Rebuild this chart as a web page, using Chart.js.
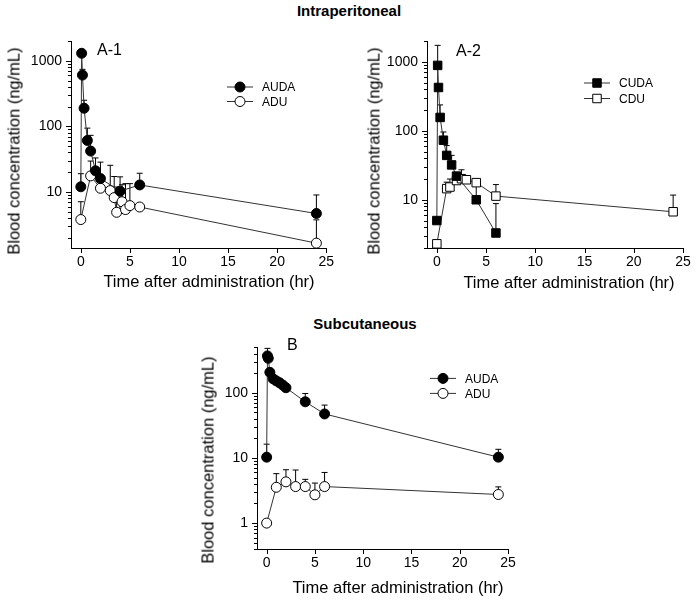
<!DOCTYPE html>
<html>
<head>
<meta charset="utf-8">
<script src="https://cdn.jsdelivr.net/npm/chart.js@4.4.0/dist/chart.umd.min.js"></script>
<style>
body { margin: 0; background: #fff; width: 698px; height: 602px; position: relative; overflow: hidden; font-family: 'Liberation Sans', Arial, sans-serif; color: #000; }
canvas { position: absolute; }
.lbl { position: absolute; white-space: nowrap; font-size: 16.5px; transform: translate(-50%, -50%); }
.rot { transform: translate(-50%, -50%) rotate(-90deg); }
.head { font-weight: bold; font-size: 15px; }
.tag { font-size: 16px; transform: translate(0, -50%); }
</style>
</head>
<body>
<div class="lbl head" style="left:349px;top:10px">Intraperitoneal</div>
<div class="lbl head" style="left:365px;top:323px">Subcutaneous</div>

<canvas id="chartA1" width="340" height="300" style="left:0;top:20px"></canvas>
<canvas id="chartA2" width="349" height="300" style="left:349px;top:20px"></canvas>
<canvas id="chartB" width="400" height="272" style="left:180px;top:330px"></canvas>

<div class="lbl tag" style="left:97px;top:50px">A-1</div>
<div class="lbl tag" style="left:456px;top:51px">A-2</div>
<div class="lbl tag" style="left:287px;top:345px">B</div>

<div class="lbl rot" style="left:14px;top:151px">Blood concentration (ng/mL)</div>
<div class="lbl rot" style="left:374px;top:151px">Blood concentration (ng/mL)</div>
<div class="lbl rot" style="left:208px;top:460px">Blood concentration (ng/mL)</div>
<div class="lbl" style="left:209px;top:281px">Time after administration (hr)</div>
<div class="lbl" style="left:569px;top:282px">Time after administration (hr)</div>
<div class="lbl" style="left:398px;top:587px">Time after administration (hr)</div>

<script>
'use strict';

// A-1 intraperitoneal: AUDA and its metabolite ADU (mean, upper SD)
var a1AudaTime = [0, 0.083, 0.167, 0.333, 0.667, 1, 1.5, 2, 4, 6, 24];
var a1AudaConc = [12, 1300, 605, 189, 61, 42, 21, 16, 10.3, 12.8, 4.7];
var a1AudaSd = [7, 0, 135, 61, 33, 31, 12, 12.5, 6.7, 6.5, 4.3];
var a1AduTime = [0, 1, 2, 3, 3.4, 3.65, 4.2, 4.55, 5, 6, 24];
var a1AduConc = [3.8, 17.6, 11.4, 10.5, 8.2, 4.9, 7.1, 5.4, 6.2, 5.9, 1.66];
var a1AduSd = [3.3, 12, 4, 15, 9, 7, 5.8, 8, 7.2, 0, 2.1];

// A-2 intraperitoneal: CUDA and CDU
var a2CudaTime = [0, 0.083, 0.167, 0.333, 0.667, 1, 1.5, 2, 4, 6];
var a2CudaConc = [5, 886, 424, 156, 73, 44, 32, 22, 10, 3.3];
var a2CudaSd = [0, 844, 0, 81, 23, 17, 12, 3, 7, 5.5];
var a2CduTime = [0, 1, 1.33, 2, 2.5, 3, 4, 6, 24];
var a2CduConc = [2.3, 14.5, 15.3, 19, 20.2, 19.5, 17.7, 11.3, 6.7];
var a2CduSd = [0, 3.5, 4.7, 5, 7, 2.5, 0, 5.3, 5];

// B subcutaneous: AUDA and ADU
var bAudaTime = [0, 0.083, 0.167, 0.333, 0.667, 1, 1.333, 1.667, 2, 4, 6, 24];
var bAudaConc = [10.3, 370, 340, 207, 165, 153, 143, 132, 120, 73, 47.5, 10.3];
var bAudaSd = [6, 113, 0, 0, 0, 12, 20, 0, 0, 25, 17.5, 3.3];
var bAduTime = [0, 1, 2, 3, 4, 5, 6, 24];
var bAduConc = [1.0, 3.55, 4.3, 3.64, 3.64, 2.72, 3.64, 2.75];
var bAduSd = [0, 2.2, 2.3, 2.9, 1.06, 1.4, 2.36, 0.85];

var timeTicks = [0, 5, 10, 15, 20, 25];
var concLabels = [1, 10, 100, 1000];

Chart.defaults.font.family = "'Liberation Sans', Arial, sans-serif";
Chart.defaults.font.size = 14;
Chart.defaults.color = '#000';

function toPoints(xs, ys) {
  var pts = [];
  for (var i = 0; i < xs.length; i++) {
    pts.push({x: xs[i], y: ys[i]});
  }
  return pts;
}

function series(label, xs, ys, sd, style, filled) {
  return {
    label: label,
    data: toPoints(xs, ys),
    sd: sd,
    showLine: true,
    borderColor: '#333',
    borderWidth: 1,
    pointStyle: style,
    pointRadius: style === 'rect' ? 6 : 5,
    pointBorderWidth: 1,
    pointBorderColor: '#000',
    pointBackgroundColor: filled ? '#000' : '#fff',
    clip: false
  };
}

// upward SD bars, drawn under the markers
var errorBars = {
  id: 'errorBars',
  beforeDatasetsDraw: function(chart) {
    var ctx = chart.ctx;
    var yScale = chart.scales.y;
    chart.data.datasets.forEach(function(ds, i) {
      var meta = chart.getDatasetMeta(i);
      ctx.save();
      ctx.strokeStyle = '#000';
      ctx.lineWidth = 1;
      meta.data.forEach(function(pt, j) {
        var sd = ds.sd[j];
        if (!sd) return;
        var top = yScale.getPixelForValue(ds.data[j].y + sd);
        ctx.beginPath();
        ctx.moveTo(pt.x, pt.y);
        ctx.lineTo(pt.x, top);
        ctx.moveTo(pt.x - 3, top);
        ctx.lineTo(pt.x + 3, top);
        ctx.stroke();
      });
      ctx.restore();
    });
  }
};

// outward tick marks, short ones for the log minors
var tickMarks = {
  id: 'tickMarks',
  afterDraw: function(chart) {
    var ctx = chart.ctx;
    var xs = chart.scales.x, ys = chart.scales.y;
    var axisX = chart.chartArea.left, axisY = chart.chartArea.bottom;
    ctx.save();
    ctx.strokeStyle = '#000';
    ctx.lineWidth = 1;
    ctx.beginPath();
    timeTicks.forEach(function(v) {
      var px = Math.round(xs.getPixelForValue(v)) + 0.5;
      ctx.moveTo(px, axisY);
      ctx.lineTo(px, axisY + 5);
    });
    var lo = Math.floor(Math.log10(ys.min)), hi = Math.ceil(Math.log10(ys.max));
    for (var d = lo; d <= hi; d++) {
      for (var m = 1; m <= 9; m++) {
        var v = m * Math.pow(10, d);
        if (v < ys.min || v > ys.max) continue;
        var py = Math.round(ys.getPixelForValue(v)) + 0.5;
        ctx.moveTo(axisX, py);
        ctx.lineTo(axisX - (m === 1 ? 5 : 3), py);
      }
    }
    ctx.stroke();
    ctx.restore();
  }
};

var keyLegend = {
  id: 'keyLegend',
  afterDraw: function(chart, args, opts) {
    var ctx = chart.ctx;
    var area = chart.chartArea;
    chart.data.datasets.forEach(function(ds, i) {
      var x = area.left + opts.dx;
      var y = area.top + opts.dy + i * opts.gap;
      ctx.save();
      ctx.strokeStyle = '#333';
      ctx.lineWidth = 1;
      ctx.beginPath();
      ctx.moveTo(x - 13, y);
      ctx.lineTo(x + 13, y);
      ctx.stroke();
      ctx.fillStyle = ds.pointBackgroundColor;
      ctx.strokeStyle = '#000';
      ctx.beginPath();
      if (ds.pointStyle === 'rect') {
        var s = ds.pointRadius * Math.SQRT1_2;
        ctx.rect(x - s, y - s, 2 * s, 2 * s);
      } else {
        ctx.arc(x, y, ds.pointRadius, 0, Math.PI * 2);
      }
      ctx.fill();
      ctx.stroke();
      ctx.fillStyle = '#000';
      ctx.font = "12px 'Liberation Sans', Arial, sans-serif";
      ctx.textBaseline = 'middle';
      ctx.fillText(ds.label, x + 22, y + 1);
      ctx.restore();
    });
  }
};

function makeChart(id, datasets, box) {
  return new Chart(document.getElementById(id), {
    type: 'scatter',
    data: {datasets: datasets},
    options: {
      responsive: false,
      animation: false,
      layout: {padding: {top: box.top, right: box.right, left: 0, bottom: 0}},
      plugins: {
        legend: {display: false},
        tooltip: {enabled: false},
        keyLegend: box.legend
      },
      scales: {
        x: {
          type: 'linear',
          min: -1,
          max: 25,
          afterBuildTicks: function(scale) {
            scale.ticks = timeTicks.map(function(v) { return {value: v}; });
          },
          afterFit: function(scale) { scale.height = box.xh; },
          grid: {drawOnChartArea: false, drawTicks: false},
          border: {color: '#000', width: 1},
          ticks: {padding: 6, maxRotation: 0, autoSkip: false}
        },
        y: {
          type: 'logarithmic',
          min: box.ymin,
          max: box.ymax,
          afterBuildTicks: function(scale) {
            scale.ticks = concLabels.filter(function(v) {
              return v >= box.ymin && v <= box.ymax;
            }).map(function(v) { return {value: v}; });
          },
          afterFit: function(scale) { scale.width = box.yw; },
          grid: {drawOnChartArea: false, drawTicks: false},
          border: {color: '#000', width: 1},
          ticks: {
            padding: 9,
            autoSkip: false,
            callback: function(value) { return String(value); }
          }
        }
      }
    },
    plugins: [errorBars, tickMarks, keyLegend]
  });
}

makeChart('chartA1', [
  series('AUDA', a1AudaTime, a1AudaConc, a1AudaSd, 'circle', true),
  series('ADU', a1AduTime, a1AduConc, a1AduSd, 'circle', false)
], {top: 21, right: 13, yw: 71, xh: 72, ymin: 1.4, ymax: 2000,
    legend: {dx: 169, dy: 46, gap: 14.5}});

makeChart('chartA2', [
  series('CUDA', a2CudaTime, a2CudaConc, a2CudaSd, 'rect', true),
  series('CDU', a2CduTime, a2CduConc, a2CduSd, 'rect', false)
], {top: 21, right: 15, yw: 78, xh: 72, ymin: 2, ymax: 2000,
    legend: {dx: 170, dy: 42, gap: 15.5}});

makeChart('chartB', [
  series('AUDA', bAudaTime, bAudaConc, bAudaSd, 'circle', true),
  series('ADU', bAduTime, bAduConc, bAduSd, 'circle', false)
], {top: 13, right: 72, yw: 77, xh: 53, ymin: 0.4, ymax: 500,
    legend: {dx: 186, dy: 31, gap: 15}});
</script>
</body>
</html>
